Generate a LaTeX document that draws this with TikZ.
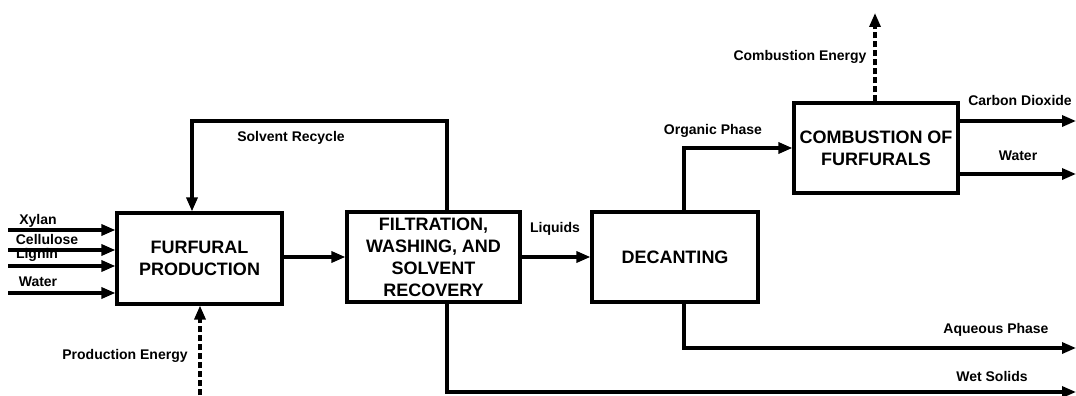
\documentclass[tikz,border=0pt]{standalone}
\usepackage{fontspec}
\setmainfont{Liberation Sans}
\usetikzlibrary{arrows.meta}
\begin{document}
\begin{tikzpicture}[x=1pt,y=-1pt,
 box/.style={draw,line width=3.2pt,align=center,font=\fontsize{18}{22}\selectfont\bfseries,inner sep=0pt},
 lbl/.style={font=\fontsize{14}{16}\selectfont\bfseries,inner sep=0pt},
 flow/.style={line width=3.2pt,-{Triangle[length=14pt,width=11pt]}},
 energy/.style={flow,dash pattern=on 6pt off 3pt}]
\useasboundingbox (0,0) rectangle (1076,396);
% boxes
\node[box,minimum width=165pt,minimum height=91pt] (fp) at (199.5,258.5) {FURFURAL\\PRODUCTION};
\node[box,minimum width=173pt,minimum height=90pt] (fw) at (433.5,257) {FILTRATION,\\WASHING, AND\\SOLVENT\\RECOVERY};
\node[box,minimum width=166pt,minimum height=90pt] (dec) at (675,257) {DECANTING};
\node[box,minimum width=164pt,minimum height=90pt] (comb) at (876,148) {COMBUSTION OF\\FURFURALS};
% free ends
\coordinate (in1) at (8,230);
\coordinate (in2) at (8,250);
\coordinate (in3) at (8,266);
\coordinate (in4) at (8,293);
\coordinate (rc1) at (447,121);
\coordinate (rc2) at (192,121);
\coordinate (ws) at (1076,392);
\coordinate (op) at (684,148);
\coordinate (aq) at (1076,348);
\coordinate (co2) at (1076,121);
\coordinate (h2o) at (1076,174);
\coordinate (ce) at (875,13);
\coordinate (pe) at (200,395);
% connectors
\draw[flow] (in1) -- (in1 -| fp.west);
\draw[flow] (in2) -- (in2 -| fp.west);
\draw[flow] (in3) -- (in3 -| fp.west);
\draw[flow] (in4) -- (in4 -| fp.west);
\draw[flow] (fp.east |- fw.west) -- (fw.west);
\draw[flow] (fw.east) -- (dec.west);
\draw[flow] (fw.north -| rc1) -- (rc1) -- (rc2) -- (fp.north -| rc2);
\draw[flow] (fw.south -| rc1) |- (ws);
\draw[flow] (dec.north -| op) |- (comb.west);
\draw[flow] (dec.south -| op) |- (aq);
\draw[flow] (comb.east |- co2) -- (co2);
\draw[flow] (comb.east |- h2o) -- (h2o);
\draw[energy] (comb.north -| ce) -- (ce);
\draw[energy] (pe) -- (pe |- fp.south);
% labels
\node[lbl] (lx) at (38,221) {Xylan};
\node[lbl] (lc) at (47,239) {Cellulose};
\node[lbl] (ll) at (37,255) {Lignin};
\node[lbl] (lw) at (38,282) {Water};
\node[lbl] (lsr) at (291,138) {Solvent Recycle};
\node[lbl] (lpe) at (125,356) {Production Energy};
\node[lbl] (lliq) at (555,229) {Liquids};
\node[lbl] (lop) at (713,131) {Organic Phase};
\node[lbl] (lce) at (800,57) {Combustion Energy};
\node[lbl] (lco2) at (1020,100) {Carbon Dioxide};
\node[lbl] (lh2o) at (1018,156) {Water};
\node[lbl] (laq) at (996,330) {Aqueous Phase};
\node[lbl] (lws) at (992,376) {Wet Solids};
\end{tikzpicture}
\end{document}
